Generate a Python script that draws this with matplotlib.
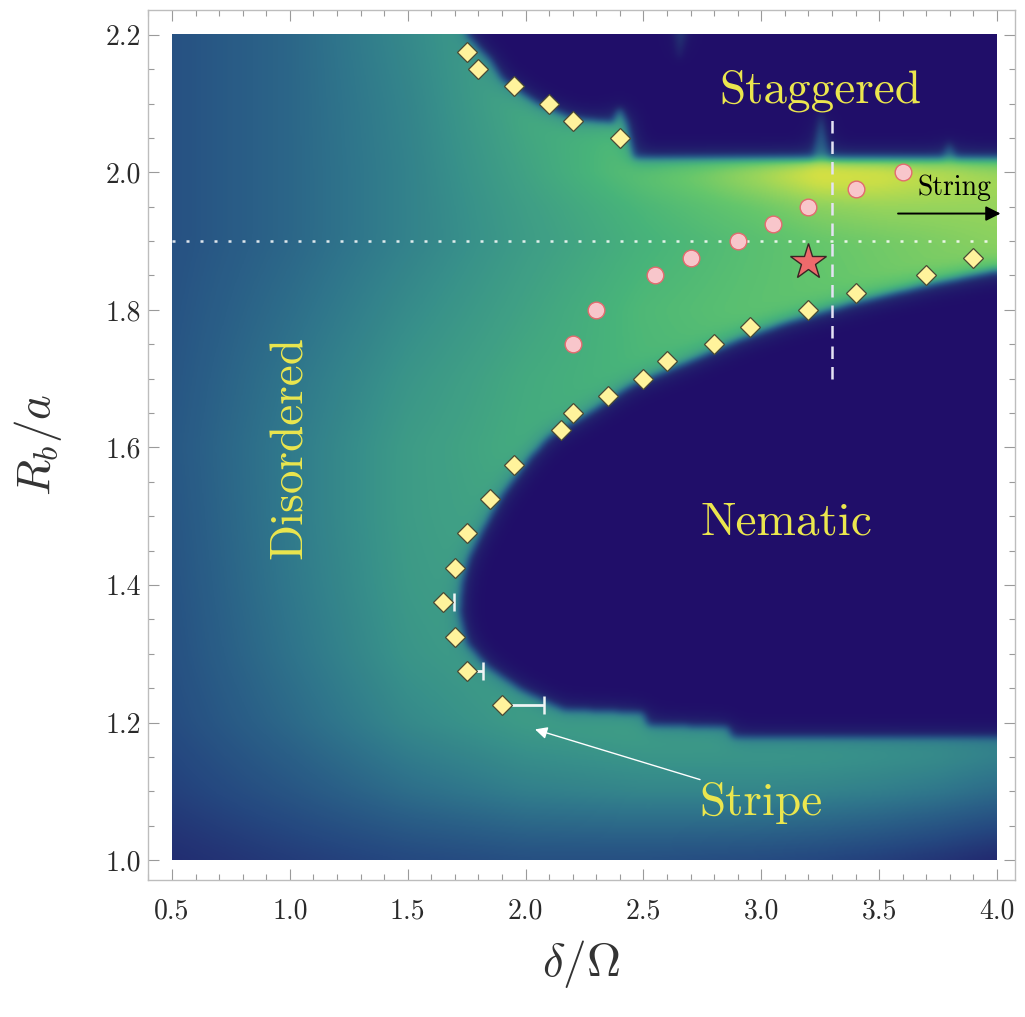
import numpy as np
import matplotlib
matplotlib.use("Agg")
import matplotlib.pyplot as plt
from matplotlib.colors import LinearSegmentedColormap
from matplotlib.path import Path
from matplotlib.ticker import MultipleLocator, FormatStrFormatter

plt.rcParams['font.family'] = 'serif'
plt.rcParams['font.serif'] = ['cmr10', 'DejaVu Serif']
plt.rcParams['mathtext.fontset'] = 'cm'
plt.rcParams['axes.unicode_minus'] = False

# ---------------------------------------------------------------------------
# Order parameter in the disordered region, on a coarse (delta, R_b) grid
grid_delta = [0.5, 1.0, 1.5, 2.0, 2.5, 2.75, 3.0, 3.25, 3.5, 3.75, 4.0]
grid_rb = [1.0, 1.1, 1.2, 1.3, 1.4, 1.5, 1.6, 1.7, 1.8, 1.9, 1.95, 2.0, 2.1, 2.2]
order_param = [
    [.14, .20, .25, .28, .28, .27, .26, .24, .21, .17, .12],
    [.22, .31, .41, .48, .51, .51, .51, .50, .48, .45, .40],
    [.27, .39, .52, .60, .63, .63, .63, .63, .62, .61, .58],
    [.29, .43, .57, .63, .64, .64, .64, .64, .64, .64, .64],
    [.30, .45, .59, .64, .64, .64, .64, .64, .64, .64, .64],
    [.31, .46, .60, .65, .65, .65, .65, .65, .65, .65, .65],
    [.32, .46, .60, .67, .69, .69, .69, .69, .69, .69, .69],
    [.31, .44, .57, .66, .71, .72, .73, .73, .73, .73, .73],
    [.30, .41, .53, .63, .72, .74, .76, .77, .79, .81, .81],
    [.29, .38, .49, .60, .69, .72, .75, .78, .80, .82, .84],
    [.29, .38, .49, .61, .71, .75, .79, .84, .86, .86, .86],
    [.29, .38, .49, .63, .76, .82, .90, .99, .97, .92, .88],
    [.29, .38, .50, .66, .72, .75, .78, .80, .80, .80, .80],
    [.29, .38, .52, .66, .70, .72, .74, .76, .76, .76, .76],
]

# Extent of the ordered phases
nematic_delta = [4.05, 3.7, 3.4, 3.1, 2.9, 2.7, 2.45, 2.25, 2.1, 2.02, 1.9, 1.82,
                 1.76, 1.73, 1.72, 1.75, 1.84, 1.98, 2.16, 2.50, 2.52, 2.86, 2.88, 4.05]
nematic_rb = [1.86, 1.835, 1.81, 1.78, 1.755, 1.725, 1.69, 1.645, 1.615, 1.585, 1.53, 1.48,
              1.44, 1.40, 1.36, 1.315, 1.28, 1.247, 1.218, 1.213, 1.195, 1.193, 1.178, 1.178]
staggered_delta = [1.70, 1.72, 1.85, 1.90, 2.05, 2.20, 2.37, 2.40, 2.43, 2.46,
                   4.05, 4.05]
staggered_rb = [2.25, 2.21, 2.164, 2.135, 2.10, 2.078, 2.072, 2.095, 2.072, 2.02,
                2.02, 2.25]
nematic_level = 0.02
staggered_level = 0.02

# Narrow streaks inside the staggered phase
spike_delta = [[3.22, 3.255, 3.29], [3.77, 3.80, 3.83], [2.62, 2.72, 2.65]]
spike_rb = [[2.02, 2.09, 2.02], [2.02, 2.045, 2.02], [2.25, 2.25, 2.16]]
spike_level = [0.42, 0.42, 0.22]

# Phase-boundary estimates
upper_delta = [1.75, 1.8, 1.95, 2.1, 2.2, 2.4]
upper_rb = [2.175, 2.15, 2.125, 2.1, 2.075, 2.05]
lower_delta = [3.9, 3.7, 3.4, 3.2, 2.95, 2.8, 2.6, 2.5, 2.35, 2.2, 2.15, 1.95, 1.85,
               1.75, 1.7, 1.65, 1.7, 1.75, 1.9]
lower_rb = [1.875, 1.85, 1.825, 1.8, 1.775, 1.75, 1.725, 1.7, 1.675, 1.65, 1.625, 1.575,
            1.525, 1.475, 1.425, 1.375, 1.325, 1.275, 1.225]
err_delta = [1.65, 1.75, 1.9]
err_rb = [1.375, 1.275, 1.225]
err_right = [0.045, 0.07, 0.18]

# String-order crossover
string_delta = [2.2, 2.3, 2.55, 2.7, 2.9, 3.05, 3.2, 3.4, 3.6]
string_rb = [1.75, 1.8, 1.85, 1.875, 1.9, 1.925, 1.95, 1.975, 2.0]

star_delta = [3.2]
star_rb = [1.87]

cut_rb = 1.9
cut_delta = 3.3
cut_delta_range = [1.70, 2.085]

x_ticks = [0.5, 1.0, 1.5, 2.0, 2.5, 3.0, 3.5, 4.0]
y_ticks = [1.0, 1.2, 1.4, 1.6, 1.8, 2.0, 2.2]

# ---------------------------------------------------------------------------
cmap = LinearSegmentedColormap.from_list("phase", [
    (0.00, "#200a68"), (0.12, "#22286f"), (0.25, "#254880"), (0.35, "#2a5f87"),
    (0.45, "#30788c"), (0.55, "#38918a"), (0.62, "#40a085"), (0.70, "#48b47a"),
    (0.78, "#64c66c"), (0.86, "#96d45c"), (0.93, "#c8de48"), (1.00, "#eee43a")])

nx, ny = 700, 700
xs = np.linspace(0.5, 4.0, nx)
ys = np.linspace(1.0, 2.2, ny)
grid = np.array(order_param)
rows = np.array([np.interp(xs, grid_delta, r) for r in grid])
field = np.array([np.interp(ys, grid_rb, rows[:, j]) for j in range(nx)]).T

X, Y = np.meshgrid(xs, ys)
pts = np.column_stack([X.ravel(), Y.ravel()])
nem = Path(np.column_stack([nematic_delta, nematic_rb])).contains_points(pts).reshape(ny, nx)
stg = Path(np.column_stack([staggered_delta, staggered_rb])).contains_points(pts).reshape(ny, nx)
field[nem] = nematic_level
field[stg] = staggered_level
for sx, sy, lv in zip(spike_delta, spike_rb, spike_level):
    m = Path(np.column_stack([sx, sy])).contains_points(pts).reshape(ny, nx)
    field[m] = lv


def smooth(a, sig):
    r = int(3 * sig) + 1
    k = np.exp(-0.5 * (np.arange(-r, r + 1) / sig) ** 2)
    k /= k.sum()
    p = np.pad(a, r, mode='edge')
    t = np.apply_along_axis(lambda v: np.convolve(v, k, mode='valid'), 1, p)
    return np.apply_along_axis(lambda v: np.convolve(v, k, mode='valid'), 0, t)


# soften the phase edges: a sharp core plus a wider halo
field = 0.6 * smooth(field, 3.0) + 0.4 * smooth(field, 9.0)

fig = plt.figure(figsize=(10.25, 10.17), dpi=100)
ax = fig.add_axes([0.1444, 0.1347, 0.8458, 0.8555])

ax.imshow(field, extent=(0.5, 4.0, 1.0, 2.2), origin='lower', cmap=cmap,
          vmin=0, vmax=1, aspect='auto', interpolation='bilinear', zorder=0)

# cut lines
ax.plot([0.5, 4.0], [cut_rb, cut_rb], color='white', lw=1.8, alpha=0.85,
        dashes=(1.2, 4.4), zorder=2)
ax.plot([cut_delta, cut_delta], cut_delta_range, color='#e4e2f4', lw=1.8,
        dashes=(5, 3.2), zorder=2)

# error bars on the stripe boundary
ax.errorbar(err_delta, err_rb, xerr=[np.zeros(len(err_right)), err_right],
            fmt='none', ecolor='#eef4f4', elinewidth=2.0, capsize=6.5,
            capthick=1.8, zorder=3)

diamond_kw = dict(marker='D', ms=10, mfc='#fff39c', mec='#4a4a34', mew=0.9,
                  ls='none', zorder=4)
ax.plot(upper_delta, upper_rb, **diamond_kw)
ax.plot(lower_delta, lower_rb, **diamond_kw)

ax.plot(string_delta, string_rb, marker='o', ms=12, mfc='#f8c6cb', mec='#e36a6e',
        mew=1.0, ls='none', zorder=4)
ax.plot(star_delta, star_rb, marker='*', ms=27, mfc='#ee6a6c', mec='#3a2424',
        mew=1.0, ls='none', zorder=5)

# labels of the phases
txt = dict(color='#ebe64e', fontsize=34, ha='center', va='center', zorder=6)
ax.text(3.25, 2.118, 'Staggered', **txt)
ax.text(3.105, 1.49, 'Nematic', **txt)
ax.text(1.0, 1.60, 'Disordered', rotation=90, **txt)
ax.text(3.0, 1.083, 'Stripe', **txt)

ax.text(3.82, 1.977, 'String', color='black', fontsize=20, ha='center',
        va='center', zorder=6)
ax.annotate('', xy=(4.015, 1.94), xytext=(3.58, 1.94),
            arrowprops=dict(arrowstyle='-|>', color='black', lw=1.4,
                            mutation_scale=22, shrinkA=0, shrinkB=0),
            annotation_clip=False, zorder=6)
ax.annotate('', xy=(2.04, 1.19), xytext=(2.74, 1.117),
            arrowprops=dict(arrowstyle='-|>', color='white', lw=1.0,
                            mutation_scale=18, shrinkA=0, shrinkB=0),
            zorder=6)

ax.set_xlim(0.398, 4.076)
ax.set_ylim(0.971, 2.236)
ax.set_xticks(x_ticks)
ax.set_yticks(y_ticks)
ax.xaxis.set_minor_locator(MultipleLocator(0.1))
ax.yaxis.set_minor_locator(MultipleLocator(0.05))
ax.xaxis.set_major_formatter(FormatStrFormatter('%.1f'))
ax.yaxis.set_major_formatter(FormatStrFormatter('%.1f'))
ax.tick_params(which='both', direction='in', top=True, right=True,
               color='#9a9a9a', width=0.8, labelcolor='#2a2a2a', labelsize=20)
ax.tick_params(which='major', length=8)
ax.tick_params(which='minor', length=4)
ax.tick_params(axis='x', pad=13)
ax.tick_params(axis='y', pad=5)
for s in ax.spines.values():
    s.set_color('#bdbdbd')
    s.set_linewidth(1.0)

ax.set_xlabel(r'$\delta/\Omega$', fontsize=34, color='#333333', labelpad=10)
ax.set_ylabel(r'$R_b/a$', fontsize=34, color='#333333', labelpad=30)

fig.savefig('out.png', dpi=100)
